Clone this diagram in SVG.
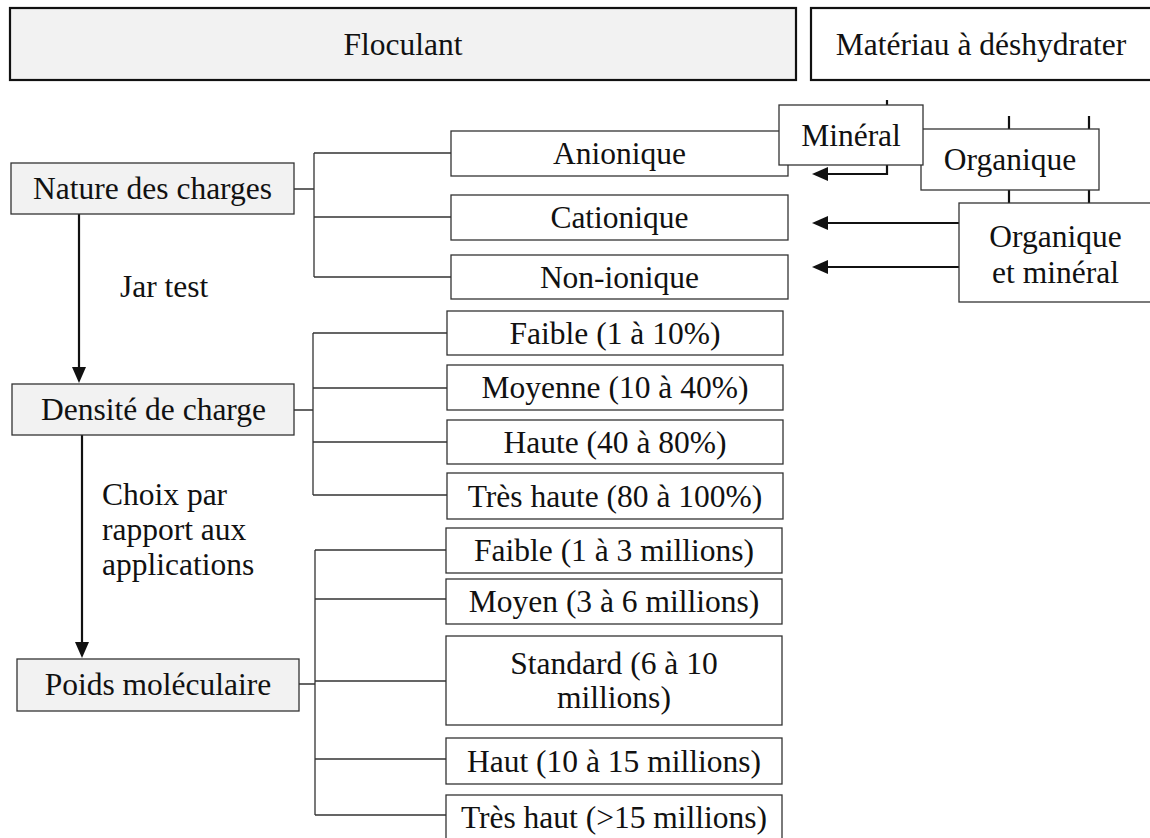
<svg xmlns="http://www.w3.org/2000/svg" width="1150" height="838" viewBox="0 0 1150 838">
<style>
text{font-family:"Liberation Serif","Times New Roman",serif;font-size:31.5px;fill:#111;text-anchor:middle}
.lbl{text-anchor:start}
.box{fill:#fff;stroke:#333;stroke-width:1.3}
.grey{fill:#f2f2f2;stroke:#333;stroke-width:1.3}
.top{stroke:#111;stroke-width:2.2}
.tree{fill:none;stroke:#333;stroke-width:1.3}
.arr{fill:none;stroke:#111;stroke-width:2.2}
</style>
<defs>
<marker id="ah" markerUnits="userSpaceOnUse" markerWidth="16" markerHeight="14" refX="8" refY="7" orient="auto">
<path d="M0,0 L16,7 L0,14 z" fill="#111"/>
</marker>
</defs>
<rect width="1150" height="838" fill="#fff"/>
<g id="connectors">
<path class="tree" d="M294,189 H314 M314,153 V277 M314,153 H451 M314,217 H451 M314,277 H451"/>
<path class="tree" d="M294,410 H313 M313,333 V495 M313,333 H447 M313,388 H447 M313,442 H447 M313,495 H447"/>
<path class="tree" d="M299,684 H315 M315,550 V815 M315,550 H446 M315,599 H446 M315,681 H446 M315,759 H446 M315,815 H446"/>
<path class="arr" d="M79,214 V375" marker-end="url(#ah)"/>
<path class="arr" d="M82,435 V650" marker-end="url(#ah)"/>
<path class="arr" d="M887,100 V174 H820" marker-end="url(#ah)"/>
<path class="arr" d="M1009,116 V203 M1089,116 V203"/>
<path class="arr" d="M959,223 H820" marker-end="url(#ah)"/>
<path class="arr" d="M959,267 H820" marker-end="url(#ah)"/>
</g>
<g id="floculant"><rect class="grey top" x="10" y="8" width="786" height="72"/><text x="403" y="55">Floculant</text></g>
<g id="materiau"><rect class="box top" x="811" y="8" width="345" height="72"/><text x="981" y="55">Matériau à déshydrater</text></g>
<g id="nature"><rect class="grey" x="11" y="163" width="283" height="51"/><text x="152.5" y="199">Nature des charges</text></g>
<g id="densite"><rect class="grey" x="12" y="384" width="282" height="51"/><text x="153.5" y="420">Densité de charge</text></g>
<g id="poids"><rect class="grey" x="17" y="659" width="282" height="52"/><text x="158" y="695">Poids moléculaire</text></g>
<g id="jar"><text class="lbl" x="120" y="297">Jar test</text></g>
<g id="choix"><text class="lbl" x="102" y="505">Choix par</text><text class="lbl" x="102" y="540">rapport aux</text><text class="lbl" x="102" y="575">applications</text></g>
<g id="anionique"><rect class="box" x="451" y="131" width="337" height="45"/><text x="619.5" y="164">Anionique</text></g>
<g id="cationique"><rect class="box" x="451" y="195" width="337" height="45"/><text x="619.5" y="228">Cationique</text></g>
<g id="nonionique"><rect class="box" x="451" y="255" width="337" height="44"/><text x="619.5" y="287.5">Non-ionique</text></g>
<g id="d-faible"><rect class="box" x="447" y="311" width="336" height="44"/><text x="615" y="343.5">Faible (1 à 10%)</text></g>
<g id="d-moyenne"><rect class="box" x="447" y="365" width="336" height="45"/><text x="615" y="398">Moyenne (10 à 40%)</text></g>
<g id="d-haute"><rect class="box" x="447" y="420" width="336" height="44"/><text x="615" y="452.5">Haute (40 à 80%)</text></g>
<g id="d-treshaute"><rect class="box" x="447" y="473" width="336" height="46"/><text x="615" y="506.5">Très haute (80 à 100%)</text></g>
<g id="p-faible"><rect class="box" x="446" y="528" width="336" height="45"/><text x="614" y="561">Faible (1 à 3 millions)</text></g>
<g id="p-moyen"><rect class="box" x="446" y="579" width="336" height="45"/><text x="614" y="612">Moyen (3 à 6 millions)</text></g>
<g id="p-standard"><rect class="box" x="446" y="636" width="336" height="89"/><text x="614" y="674">Standard (6 à 10</text><text x="614" y="708">millions)</text></g>
<g id="p-haut"><rect class="box" x="446" y="738" width="336" height="46"/><text x="614" y="771.5">Haut (10 à 15 millions)</text></g>
<g id="p-treshaut"><rect class="box" x="446" y="795" width="336" height="46"/><text x="614" y="827.5">Très haut (&gt;15 millions)</text></g>
<g id="organique"><rect class="box" x="921" y="129" width="178" height="61"/><text x="1010" y="170">Organique</text></g>
<g id="organique-mineral"><rect class="box" x="959" y="203" width="193" height="99"/><text x="1055.5" y="247">Organique</text><text x="1055.5" y="283">et minéral</text></g>
<g id="mineral"><rect class="box" x="779" y="105" width="144" height="60"/><text x="851" y="146">Minéral</text></g>
</svg>
